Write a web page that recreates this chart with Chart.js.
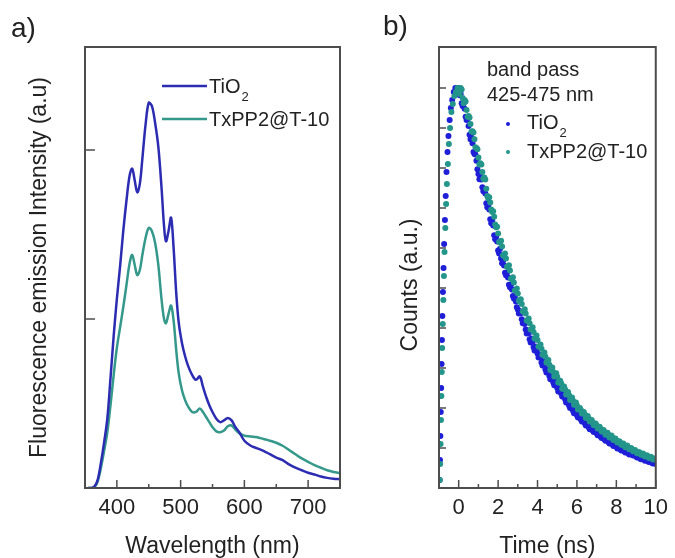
<!DOCTYPE html>
<html>
<head>
<meta charset="utf-8">
<script src="https://cdn.jsdelivr.net/npm/chart.js@4.4.1/dist/chart.umd.min.js"></script>
<style>
  body { margin: 0; background: #fff; }
  #wrap { position: relative; width: 675px; height: 558px; }
  #chartA { position: absolute; left: 0; top: 0; }
  #chartB { position: absolute; left: 345px; top: 0; }
</style>
</head>
<body>
<div id="wrap">
  <canvas id="chartA" width="345" height="558"></canvas>
  <canvas id="chartB" width="330" height="558"></canvas>
</div>
<script>
// panel a) emission spectra
var wavelength = [355,360,365,370,375,380,385,390,395,400,405,410,415,420,424,428,432,436,440,445,
  450,455,460,465,470,474,477,481,485,489,493,497,502,507,512,518,524,530,535,540,545,550,556,562,
  568,574,580,586,592,600,610,620,630,640,650,660,670,680,690,700,710,720,730,740,750];
var emissionTiO2 = [0,0,0.01,0.05,0.15,0.27,0.41,0.65,0.90,1.12,1.31,1.52,1.70,1.85,1.89,1.82,1.75,1.80,1.95,2.15,
  2.28,2.26,2.16,2.02,1.78,1.55,1.46,1.52,1.60,1.42,1.16,0.98,0.86,0.78,0.72,0.67,0.64,0.66,0.60,0.54,0.49,0.45,0.41,0.39,
  0.40,0.415,0.40,0.36,0.33,0.28,0.25,0.235,0.22,0.20,0.18,0.165,0.14,0.12,0.105,0.09,0.08,0.068,0.06,0.055,0.052];
var emissionTxPP2 = [0,0,0.005,0.04,0.12,0.22,0.33,0.49,0.67,0.83,0.95,1.07,1.20,1.33,1.38,1.32,1.26,1.29,1.38,1.48,
  1.54,1.52,1.45,1.32,1.12,1.00,0.975,1.03,1.08,0.99,0.82,0.68,0.58,0.52,0.48,0.45,0.45,0.47,0.45,0.42,0.39,0.36,0.335,0.33,
  0.34,0.365,0.37,0.345,0.325,0.31,0.305,0.30,0.29,0.28,0.268,0.25,0.225,0.20,0.175,0.155,0.135,0.12,0.105,0.095,0.088];
var ticksA = [400, 500, 600, 700];
var minorTicksA = [450, 550, 650];
var yTicksA = [1, 2];

// panel b) decay curves
var riseTimeTiO2 = [-0.97,-0.95,-0.93,-0.91,-0.89,-0.87,-0.85,-0.83,-0.8,-0.77,-0.74,-0.7,-0.66,-0.62,-0.57,-0.52,-0.46,-0.4,-0.33,-0.25,-0.17,-0.08];
var riseTiO2 = [0.02,0.07,0.13,0.19,0.25,0.31,0.37,0.43,0.49,0.55,0.61,0.67,0.73,0.79,0.84,0.88,0.92,0.95,0.97,0.99,1.0,0.99];
var riseTimeTxPP2 = [-0.96,-0.94,-0.92,-0.9,-0.88,-0.86,-0.84,-0.81,-0.78,-0.75,-0.72,-0.68,-0.64,-0.6,-0.55,-0.5,-0.44,-0.37,-0.3,-0.22,-0.14,-0.06];
var riseTxPP2 = [0.02,0.06,0.11,0.17,0.23,0.29,0.35,0.41,0.47,0.53,0.59,0.65,0.71,0.76,0.81,0.86,0.9,0.94,0.96,0.98,0.99,1.0];
var decayTime = [0,0.1,0.2,0.3,0.4,0.5,0.6,0.7,0.8,0.9,1,1.1,1.2,1.3,1.4,1.5,1.6,1.7,1.8,1.9,
  2,2.1,2.2,2.3,2.4,2.5,2.6,2.7,2.8,2.9,3,3.1,3.2,3.3,3.4,3.5,3.6,3.7,3.8,3.9,
  4,4.1,4.2,4.3,4.4,4.5,4.6,4.7,4.8,4.9,5,5.1,5.2,5.3,5.4,5.5,5.6,5.7,5.8,5.9,
  6,6.1,6.2,6.3,6.4,6.5,6.6,6.7,6.8,6.9,7,7.1,7.2,7.3,7.4,7.5,7.6,7.7,7.8,7.9,
  8,8.1,8.2,8.3,8.4,8.5,8.6,8.7,8.8,8.9,9,9.1,9.2,9.3,9.4,9.5,9.6,9.7,9.8,9.9,10];
var decayTiO2 = [1.00,0.985,0.955,0.948,0.92,0.905,0.872,0.862,0.835,0.818,
  0.785,0.778,0.752,0.745,0.712,0.706,0.672,0.668,0.632,0.628,
  0.594,0.598,0.562,0.556,0.532,0.526,0.502,0.496,0.474,0.466,
  0.446,0.442,0.422,0.416,0.396,0.394,0.372,0.374,0.352,0.354,
  0.336,0.334,0.314,0.316,0.296,0.298,0.28,0.281,0.264,0.266,
  0.25,0.248,0.236,0.234,0.222,0.22,0.206,0.208,0.193,0.194,
  0.182,0.184,0.171,0.174,0.162,0.164,0.152,0.153,0.144,0.146,
  0.137,0.138,0.129,0.131,0.121,0.123,0.115,0.117,0.109,0.111,
  0.103,0.104,0.097,0.099,0.092,0.094,0.087,0.089,0.083,0.085,
  0.079,0.08,0.074,0.076,0.071,0.072,0.067,0.069,0.063,0.065,0.06];
var decayTxPP2 = [0.99,1.0,0.975,0.97,0.945,0.93,0.91,0.892,0.872,0.85,
  0.826,0.812,0.79,0.776,0.748,0.724,0.714,0.69,0.678,0.652,
  0.636,0.614,0.604,0.58,0.574,0.552,0.544,0.522,0.514,0.494,
  0.486,0.466,0.46,0.44,0.436,0.418,0.412,0.396,0.39,0.374,
  0.37,0.354,0.348,0.334,0.328,0.316,0.308,0.298,0.29,0.28,
  0.278,0.266,0.262,0.25,0.246,0.236,0.232,0.222,0.218,0.21,
  0.206,0.198,0.195,0.188,0.184,0.177,0.174,0.167,0.164,0.158,
  0.156,0.15,0.148,0.142,0.14,0.135,0.133,0.128,0.126,0.121,
  0.119,0.115,0.113,0.109,0.107,0.104,0.102,0.098,0.097,0.093,
  0.091,0.088,0.087,0.084,0.083,0.08,0.079,0.076,0.075,0.072,0.071];
// readings taken half way between the ones above
var midTime = [0.05,0.15,0.25,0.35,0.45,0.55,0.65,0.75,0.85,0.95,1.05,1.15,1.25,1.35,1.45,1.55,1.65,1.75,1.85,1.95,
  2.05,2.15,2.25,2.35,2.45,2.55,2.65,2.75,2.85,2.95,3.05,3.15,3.25,3.35,3.45,3.55,3.65,3.75,3.85,3.95,
  4.05,4.15,4.25,4.35,4.45,4.55,4.65,4.75,4.85,4.95,5.05,5.15,5.25,5.35,5.45,5.55,5.65,5.75,5.85,5.95,
  6.05,6.15,6.25,6.35,6.45,6.55,6.65,6.75,6.85,6.95,7.05,7.15,7.25,7.35,7.45,7.55,7.65,7.75,7.85,7.95,
  8.05,8.15,8.25,8.35,8.45,8.55,8.65,8.75,8.85,8.95,9.05,9.15,9.25,9.35,9.45,9.55,9.65,9.75,9.85,9.95];
var midTiO2 = [0.982,0.962,0.961,0.928,0.922,0.883,0.876,0.840,0.834,0.797,
  0.772,0.771,0.742,0.736,0.702,0.696,0.662,0.656,0.622,0.616,
  0.586,0.574,0.568,0.538,0.538,0.508,0.508,0.480,0.478,0.452,
  0.436,0.437,0.412,0.410,0.386,0.387,0.364,0.366,0.344,0.346,
  0.326,0.327,0.306,0.309,0.289,0.291,0.272,0.275,0.257,0.26,
  0.241,0.244,0.229,0.231,0.214,0.216,0.2,0.202,0.187,0.19,
  0.176,0.179,0.166,0.169,0.156,0.159,0.147,0.15,0.14,0.143,
  0.132,0.135,0.125,0.128,0.118,0.12,0.111,0.114,0.105,0.108,
  0.099,0.101,0.094,0.096,0.089,0.091,0.084,0.087,0.081,0.083,
  0.076,0.078,0.072,0.074,0.068,0.07,0.065,0.067,0.061,0.063];
var midTxPP2 = [0.985,0.996,0.962,0.966,0.928,0.926,0.891,0.889,0.852,0.847,
  0.809,0.809,0.773,0.771,0.730,0.727,0.696,0.692,0.659,0.653,
  0.615,0.618,0.582,0.586,0.553,0.557,0.523,0.527,0.494,0.499,
  0.468,0.472,0.442,0.447,0.419,0.424,0.396,0.402,0.374,0.381,
  0.354,0.359,0.333,0.339,0.314,0.320,0.295,0.301,0.279,0.287,
  0.264,0.268,0.248,0.254,0.234,0.24,0.22,0.226,0.208,0.214,
  0.196,0.2,0.186,0.19,0.175,0.18,0.166,0.17,0.157,0.161,
  0.149,0.153,0.141,0.145,0.133,0.138,0.126,0.131,0.12,0.124,
  0.114,0.117,0.108,0.111,0.102,0.106,0.097,0.1,0.092,0.095,
  0.087,0.09,0.083,0.086,0.079,0.082,0.075,0.078,0.071,0.074];
var ticksB = [0, 2, 4, 6, 8, 10];
var minorTicksB = [1, 3, 5, 7, 9];
var yTicksB = [0.1, 0.2, 0.3, 0.4, 0.5, 0.6, 0.7, 0.8, 0.9, 1.0];

var blueLine = '#2c2cb2';
var tealLine = '#34998b';
var bluePt = '#1f1fd8';
var tealPt = '#23958a';
var textCol = '#222';

Chart.defaults.font.family = '"Liberation Sans", Arial, sans-serif';
Chart.defaults.color = textCol;

function pts(xs, ys) {
    return xs.map((x, i) => ({ x: x, y: ys[i] }));
}

// draws the box round the plot and inward tick marks
function frame(chart, xMajor, xMinor, yMajor, yLen) {
    var ctx = chart.ctx, a = chart.chartArea, x = chart.scales.x, y = chart.scales.y;
    ctx.save();
    ctx.strokeStyle = '#4d4d4d';
    ctx.lineWidth = 1.5;
    ctx.beginPath();
    xMajor.forEach(v => { var p = x.getPixelForValue(v); ctx.moveTo(p, a.bottom); ctx.lineTo(p, a.bottom - 8); });
    xMinor.forEach(v => { var p = x.getPixelForValue(v); ctx.moveTo(p, a.bottom); ctx.lineTo(p, a.bottom - 4); });
    yMajor.forEach(v => { var p = y.getPixelForValue(v); ctx.moveTo(a.left, p); ctx.lineTo(a.left + yLen, p); });
    ctx.stroke();
    ctx.lineWidth = 2;
    ctx.strokeRect(a.left, a.top, a.right - a.left, a.bottom - a.top);
    ctx.restore();
}

function subText(ctx, base, sub, x, y) {
    ctx.font = '20px "Liberation Sans", Arial';
    ctx.fillText(base, x, y);
    var w = ctx.measureText(base).width;
    ctx.font = '13px "Liberation Sans", Arial';
    ctx.fillText(sub, x + w + 1, y + 10);
}

var ctxA = document.getElementById('chartA').getContext('2d');
var chartA = new Chart(ctxA, {
    type: 'line',
    data: {
        datasets: [
            { label: 'TiO2', data: pts(wavelength, emissionTiO2), borderColor: blueLine, borderWidth: 2.5, pointRadius: 0, tension: 0.35 },
            { label: 'TxPP2@T-10', data: pts(wavelength, emissionTxPP2), borderColor: tealLine, borderWidth: 2.5, pointRadius: 0, tension: 0.35 }
        ]
    },
    options: {
        responsive: false,
        animation: false,
        layout: { padding: { top: 47, right: 5, left: 0, bottom: 0 } },
        scales: {
            x: {
                type: 'linear', min: 350, max: 750,
                grid: { display: false, drawTicks: false },
                border: { display: false },
                afterBuildTicks: s => { s.ticks = ticksA.map(v => ({ value: v })); },
                afterFit: s => { s.height = 70; },
                ticks: { font: { size: 22 }, padding: 7, color: textCol, maxRotation: 0 },
                title: { display: true, text: 'Wavelength (nm)', font: { size: 23, lineHeight: 1 }, padding: { top: 0, bottom: 0 }, color: textCol }
            },
            y: {
                min: 0, max: 2.61,
                grid: { display: false, drawTicks: false },
                border: { display: false },
                ticks: { display: false },
                afterFit: s => { s.width = 85; },
                title: { display: true, text: 'Fluorescence emission Intensity (a.u)', font: { size: 23, lineHeight: 1 }, padding: { top: 28, bottom: 0 }, color: textCol }
            }
        },
        plugins: { legend: { display: false }, tooltip: { enabled: false } }
    },
    plugins: [{
        id: 'decorA',
        afterDraw(chart) {
            frame(chart, ticksA, minorTicksA, yTicksA, 10);
            var ctx = chart.ctx;
            ctx.save();
            ctx.lineWidth = 2.5;
            ctx.strokeStyle = blueLine;
            ctx.beginPath(); ctx.moveTo(162, 86); ctx.lineTo(207, 86); ctx.stroke();
            ctx.strokeStyle = tealLine;
            ctx.beginPath(); ctx.moveTo(162, 119); ctx.lineTo(207, 119); ctx.stroke();
            ctx.fillStyle = textCol;
            ctx.textBaseline = 'middle';
            subText(ctx, 'TiO', '2', 209, 87);
            ctx.font = '20px "Liberation Sans", Arial';
            ctx.fillText('TxPP2@T-10', 209, 120);
            ctx.font = '28px "Liberation Sans", Arial';
            ctx.fillText('a)', 11, 29);
            ctx.restore();
        }
    }]
});

var ctxB = document.getElementById('chartB').getContext('2d');
var chartB = new Chart(ctxB, {
    type: 'scatter',
    data: {
        datasets: [
            { label: 'TiO2', data: pts(riseTimeTiO2.concat(decayTime, midTime), riseTiO2.concat(decayTiO2, midTiO2)), backgroundColor: bluePt, borderWidth: 0, pointRadius: 3, order: 2 },
            { label: 'TxPP2@T-10', data: pts(riseTimeTxPP2.concat(decayTime, midTime), riseTxPP2.concat(decayTxPP2, midTxPP2)), backgroundColor: tealPt, borderWidth: 0, pointRadius: 3, order: 1 }
        ]
    },
    options: {
        responsive: false,
        animation: false,
        layout: { padding: { top: 47, right: 13, left: 0, bottom: 0 } },
        scales: {
            x: {
                type: 'linear', min: -1, max: 10,
                grid: { display: false, drawTicks: false },
                border: { display: false },
                afterBuildTicks: s => { s.ticks = ticksB.map(v => ({ value: v })); },
                afterFit: s => { s.height = 70; },
                ticks: { font: { size: 22 }, padding: 7, color: textCol, maxRotation: 0 },
                title: { display: true, text: 'Time (ns)', font: { size: 23, lineHeight: 1 }, padding: { top: 0, bottom: 0 }, color: textCol }
            },
            y: {
                min: 0, max: 1.1025,
                grid: { display: false, drawTicks: false },
                border: { display: false },
                ticks: { display: false },
                afterFit: s => { s.width = 94; },
                title: { display: false }
            }
        },
        plugins: { legend: { display: false }, tooltip: { enabled: false } }
    },
    plugins: [{
        id: 'decorB',
        afterDraw(chart) {
            frame(chart, ticksB, minorTicksB, yTicksB, 7);
            var ctx = chart.ctx;
            ctx.save();
            ctx.fillStyle = textCol;
            ctx.textBaseline = 'middle';
            ctx.font = '20px "Liberation Sans", Arial';
            ctx.fillText('band pass', 142, 70);
            ctx.fillText('425-475 nm', 142, 95);
            ctx.fillStyle = bluePt;
            ctx.beginPath(); ctx.arc(163, 124, 2, 0, Math.PI * 2); ctx.fill();
            ctx.fillStyle = tealPt;
            ctx.beginPath(); ctx.arc(163, 152, 2, 0, Math.PI * 2); ctx.fill();
            ctx.fillStyle = textCol;
            subText(ctx, 'TiO', '2', 182, 123);
            ctx.font = '20px "Liberation Sans", Arial';
            ctx.fillText('TxPP2@T-10', 182, 152);
            ctx.font = '28px "Liberation Sans", Arial';
            ctx.fillText('b)', 38, 27);
            ctx.translate(66, 285);
            ctx.rotate(-Math.PI / 2);
            ctx.textAlign = 'center';
            ctx.font = '23px "Liberation Sans", Arial';
            ctx.fillText('Counts (a.u.)', 0, 0);
            ctx.restore();
        }
    }]
});
</script>
</body>
</html>
